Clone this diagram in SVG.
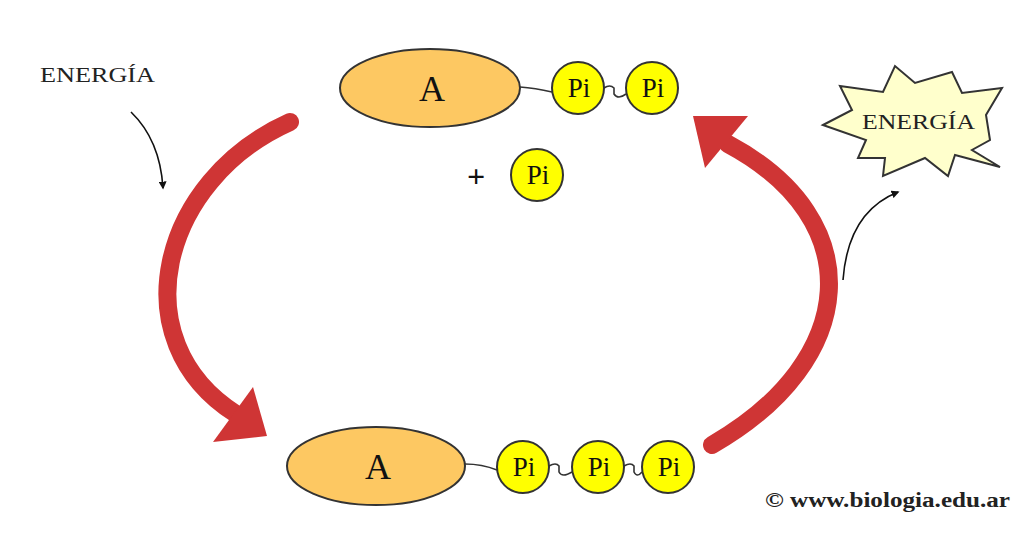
<svg xmlns="http://www.w3.org/2000/svg" width="1022" height="550" viewBox="0 0 1022 550">
<style>
.ell{fill:#fdc862;stroke:#333;stroke-width:2}
.pi{fill:#ffff00;stroke:#333;stroke-width:2}
.t{font-family:"Liberation Serif",serif;fill:#111;text-anchor:middle}
.big{font-size:36px}
.pit{font-size:27px}
.lnk{fill:none;stroke:#333;stroke-width:1.6}
.red{fill:none;stroke:#cf3535;stroke-width:18;stroke-linecap:round}
.head{fill:#cf3535}
.thin{fill:none;stroke:#111;stroke-width:1.6}
</style>
<defs>
<marker id="ah" viewBox="0 0 10 10" refX="8" refY="5" markerWidth="5" markerHeight="5" orient="auto">
<path d="M0,0 L10,5 L0,10 z" fill="#111"/>
</marker>
</defs>
<rect width="1022" height="550" fill="#fff"/>
<g id="connectors">
<path class="red" d="M290 122 C160 180 120 340 236 414"/>
<polygon class="head" points="267,436 213,442 253,387"/>
<path class="red" d="M712 445 C860 360 870 220 728 144"/>
<polygon class="head" points="693,116 748,116 705,168"/>
<path class="thin" d="M131 112 Q160 140 163 188" marker-end="url(#ah)"/>
<path class="thin" d="M843 280 Q848 212 898 192" marker-end="url(#ah)"/>
</g>
<g id="atp">
<path class="lnk" d="M520 87 Q535 88 552 92"/>
<path class="lnk" d="M604 88 Q610 84 614 88 L614 94 Q618 100 626 94"/>
<ellipse class="ell" cx="430" cy="88" rx="90" ry="39"/>
<text class="t big" x="432" y="101">A</text>
<circle class="pi" cx="578" cy="88" r="26"/>
<text class="t pit" x="579" y="97">Pi</text>
<circle class="pi" cx="652" cy="88" r="26"/>
<text class="t pit" x="653" y="97">Pi</text>
</g>
<g id="pi-free">
<text class="t" x="476" y="187" style="font-size:32px;font-weight:bold">+</text>
<circle class="pi" cx="537" cy="175" r="26"/>
<text class="t pit" x="538" y="184">Pi</text>
</g>
<g id="adp">
<path class="lnk" d="M465 464 Q482 464 497 470"/>
<path class="lnk" d="M549 466 Q556 462 559 466 L559 472 Q562 478 572 472"/>
<path class="lnk" d="M624 466 Q631 462 634 466 L634 472 Q637 478 642 472"/>
<ellipse class="ell" cx="376" cy="466" rx="89" ry="39"/>
<text class="t big" x="378" y="479">A</text>
<circle class="pi" cx="523" cy="467" r="26"/>
<text class="t pit" x="524" y="476">Pi</text>
<circle class="pi" cx="598" cy="467" r="26"/>
<text class="t pit" x="599" y="476">Pi</text>
<circle class="pi" cx="668" cy="467" r="26"/>
<text class="t pit" x="669" y="476">Pi</text>
</g>
<g id="energia-in">
<text x="40" y="82" textLength="115" lengthAdjust="spacingAndGlyphs" style="font-family:'Liberation Serif',serif;font-size:20px;fill:#222">ENERGÍA</text>
</g>
<g id="energia-out">
<polygon points="823,125 852,110 840,86 883,92 895,66 915,83 952,72 962,93 1002,88 986,115 990,140 972,150 1000,167 955,155 948,176 925,158 883,176 885,158 858,158 866,140" fill="#ffffcc" stroke="#333" stroke-width="2" stroke-linejoin="miter"/>
<text x="862" y="129" textLength="113" lengthAdjust="spacingAndGlyphs" style="font-family:'Liberation Serif',serif;font-size:20px;fill:#222">ENERGÍA</text>
</g>
<g id="credit">
<text x="765" y="507" textLength="245" lengthAdjust="spacingAndGlyphs" style="font-family:'Liberation Serif',serif;font-size:20px;font-weight:bold;fill:#222">© www.biologia.edu.ar</text>
</g>
</svg>
